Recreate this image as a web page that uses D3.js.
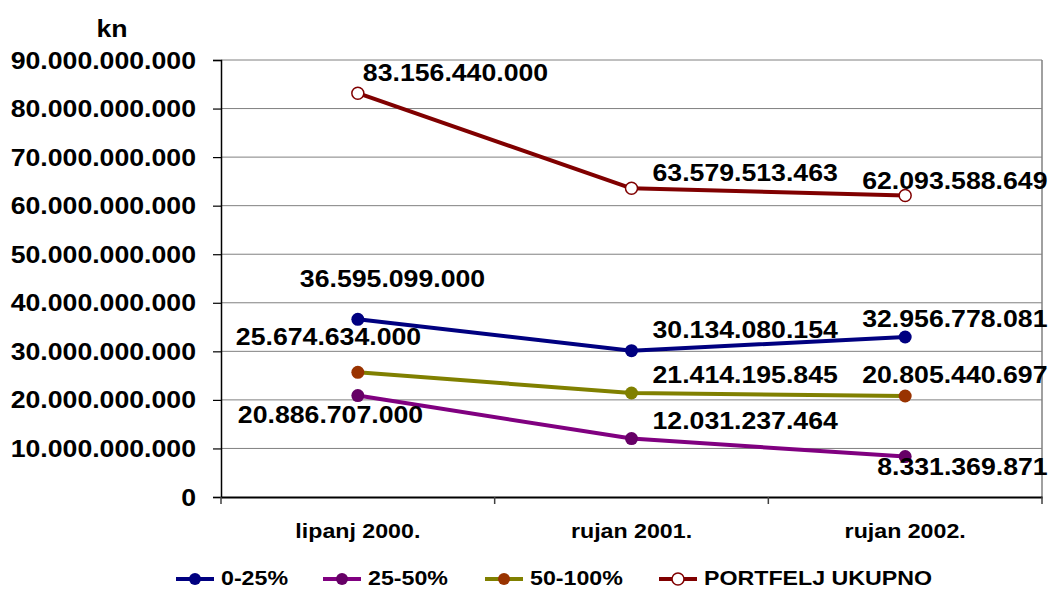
<!DOCTYPE html>
<html>
<head>
<meta charset="utf-8">
<script src="https://cdn.jsdelivr.net/npm/d3@7"></script>
<style>
  html, body { margin: 0; padding: 0; background: #fff; }
  svg text { font-family: Arial, "Liberation Sans", sans-serif; font-weight: bold; fill: #000; }
</style>
</head>
<body>
<div id="chart"></div>
<script>
const categories = ['lipanj 2000.', 'rujan 2001.', 'rujan 2002.'];
const seriesNames = ['0-25%', '25-50%', '50-100%', 'PORTFELJ UKUPNO'];
const values025 = [36595099000, 30134080154, 32956778081];
const values2550 = [20886707000, 12031237464, 8331369871];
const values50100 = [25674634000, 21414195845, 20805440697];
const valuesTotal = [83156440000, 63579513463, 62093588649];
const yTicks = [0, 10e9, 20e9, 30e9, 40e9, 50e9, 60e9, 70e9, 80e9, 90e9];

// styling (kept apart from the data)
const series = [
  { name: seriesNames[0], values: values025, line: '#000080', marker: ['#000080', '#000080', '#000080'], legendMarker: '#000080', open: false,
    offsets: [[-58, -32], [21, -13], [-43, -10]] },
  { name: seriesNames[1], values: values2550, line: '#800080', marker: ['#660066', '#660066', '#660066'], legendMarker: '#660066', open: false,
    offsets: [[-120, 27], [21, -10], [-28, 18]] },
  { name: seriesNames[2], values: values50100, line: '#808000', marker: ['#993300', '#808000', '#993300'], legendMarker: '#993300', open: false,
    offsets: [[-122, -27], [21, -10], [-43, -13]] },
  { name: seriesNames[3], values: valuesTotal, line: '#800000', marker: ['#800000', '#800000', '#800000'], legendMarker: '#800000', open: true,
    offsets: [[5, -12], [21, -7], [-43, -7]] }
];

const W = 1050, H = 590;
const SX = 1.16; // horizontal text stretch seen in the picture
const plot = { left: 221, right: 1042, top: 60, bottom: 497 };
const fmt = v => d3.format(',')(v).replace(/,/g, '.');

const svg = d3.select('#chart').append('svg')
  .attr('width', W).attr('height', H);

const x = d3.scaleBand().domain(categories).range([plot.left, plot.right]);
const y = d3.scaleLinear().domain([0, 90e9]).range([plot.bottom, plot.top]);

function stretchedText(g, tx, ty, txt, size, anchor) {
  return g.append('text')
    .attr('transform', `translate(${tx},${ty}) scale(${SX},1)`)
    .attr('text-anchor', anchor || 'start')
    .style('font-size', size + 'px')
    .text(txt);
}

// gridlines
svg.append('g').selectAll('line')
  .data(yTicks.filter(d => d > 0))
  .enter().append('line')
  .attr('x1', plot.left).attr('x2', plot.right)
  .attr('y1', d => y(d)).attr('y2', d => y(d))
  .attr('stroke', '#808080').attr('stroke-width', 1);

// right border
svg.append('line')
  .attr('x1', plot.right).attr('x2', plot.right)
  .attr('y1', plot.top).attr('y2', plot.bottom)
  .attr('stroke', '#808080').attr('stroke-width', 1.5);

// y axis
const yAxis = svg.append('g')
  .attr('transform', `translate(${plot.left},0)`)
  .call(d3.axisLeft(y).tickValues(yTicks).tickSize(8).tickFormat(fmt));
yAxis.select('.domain').attr('stroke', '#000').attr('stroke-width', 1.5);
yAxis.selectAll('.tick line').attr('stroke', '#000').attr('stroke-width', 1.2);
yAxis.selectAll('.tick text')
  .attr('x', null).attr('dy', null)
  .attr('transform', `translate(-25,8) scale(${SX},1)`)
  .style('font-size', '23px');

// x axis
const xAxis = svg.append('g')
  .attr('transform', `translate(0,${plot.bottom})`)
  .call(d3.axisBottom(x).tickSize(0));
xAxis.select('.domain').attr('stroke', '#000').attr('stroke-width', 2);
xAxis.selectAll('.tick text')
  .attr('y', null).attr('dy', null)
  .attr('transform', `translate(0,41) scale(${SX},1)`)
  .style('font-size', '20px');
const bounds = categories.map(c => x(c)).concat([x(categories[categories.length - 1]) + x.bandwidth()]);
svg.append('g').selectAll('line')
  .data(bounds).enter().append('line')
  .attr('x1', d => d).attr('x2', d => d)
  .attr('y1', plot.bottom).attr('y2', plot.bottom + 7)
  .attr('stroke', '#404040').attr('stroke-width', 1.5);

// unit label
stretchedText(svg, 112, 37, 'kn', 23, 'middle');

const cx = c => x(c) + x.bandwidth() / 2;
const line = d3.line().x((d, i) => cx(categories[i])).y(d => y(d));

// lines
series.forEach(s => {
  svg.append('path')
    .datum(s.values)
    .attr('d', line)
    .attr('fill', 'none')
    .attr('stroke', s.line)
    .attr('stroke-width', 4)
    .attr('stroke-linejoin', 'round');
});

// markers
series.forEach(s => {
  svg.append('g').selectAll('circle')
    .data(s.values).enter().append('circle')
    .attr('cx', (d, i) => cx(categories[i]))
    .attr('cy', d => y(d))
    .attr('r', s.open ? 6 : 6.5)
    .attr('fill', (d, i) => s.open ? '#fff' : s.marker[i])
    .attr('stroke', (d, i) => s.open ? s.marker[i] : 'none')
    .attr('stroke-width', 1.5);
});

// data labels
series.forEach(s => {
  s.values.forEach((v, i) => {
    stretchedText(svg, cx(categories[i]) + s.offsets[i][0], y(v) + s.offsets[i][1], fmt(v), 23, 'start');
  });
});

// legend
const legendX = [176, 323, 485, 659];
const legendY = 579;
series.forEach((s, i) => {
  const g = svg.append('g').attr('transform', `translate(${legendX[i]},${legendY})`);
  g.append('line').attr('x1', 0).attr('x2', 38).attr('y1', 0).attr('y2', 0)
    .attr('stroke', s.line).attr('stroke-width', 4);
  g.append('circle').attr('cx', 19).attr('cy', 0).attr('r', 6)
    .attr('fill', s.open ? '#fff' : s.legendMarker)
    .attr('stroke', s.open ? s.legendMarker : 'none')
    .attr('stroke-width', 1.5);
  stretchedText(g, 45, 6, s.name, 20, 'start');
});
</script>
</body>
</html>
